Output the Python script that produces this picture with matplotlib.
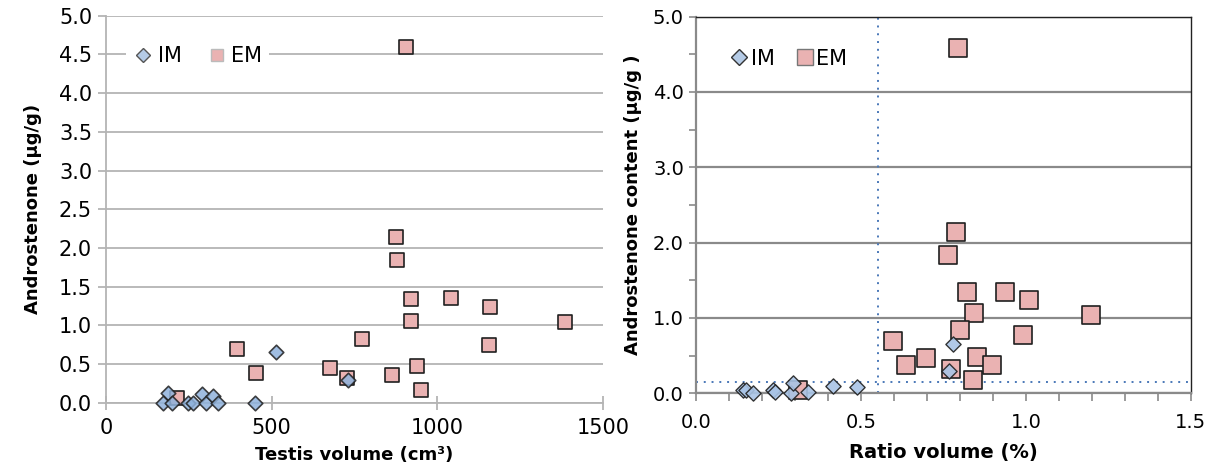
import matplotlib.pyplot as plt
from matplotlib.lines import Line2D
from matplotlib.ticker import MultipleLocator
from matplotlib import font_manager

# left panel: testis volume vs androstenone
im_vol = [186, 172, 198, 247, 263, 289, 302, 323, 338, 450, 512, 730]
im_andro = [0.13, 0.0, 0.0, 0.0, 0.0, 0.11, 0.0, 0.09, 0.0, 0.0, 0.66, 0.29]
em_vol = [907, 876, 878, 920, 1041, 1161, 921, 1387, 772, 1158, 395, 677, 939, 453, 729, 864, 951, 214]
em_andro = [4.60, 2.14, 1.84, 1.34, 1.35, 1.24, 1.06, 1.04, 0.83, 0.75, 0.69, 0.45, 0.47, 0.38, 0.32, 0.36, 0.16, 0.06]

# right panel: ratio volume vs androstenone content
im_ratio = [0.141, 0.151, 0.173, 0.231, 0.238, 0.286, 0.292, 0.338, 0.415, 0.487, 0.780, 0.767]
im_content = [0.05, 0.04, 0.01, 0.04, 0.02, 0.01, 0.14, 0.02, 0.10, 0.09, 0.66, 0.30]
em_ratio = [0.794, 0.788, 0.765, 0.821, 0.936, 1.009, 0.842, 1.198, 0.800, 0.990, 0.596, 0.698, 0.851, 0.635, 0.898, 0.774, 0.840, 0.308]
em_content = [4.58, 2.14, 1.84, 1.34, 1.35, 1.24, 1.06, 1.04, 0.84, 0.77, 0.70, 0.47, 0.48, 0.38, 0.37, 0.32, 0.17, 0.05]

ratio_cut = 0.55
content_cut = 0.15

im_face = '#8fb2dc'
em_face = '#eab2b2'
edge = '#202020'

# narrow font for the right panel, if there is one
names = {f.name for f in font_manager.fontManager.ttflist}
narrow = 'Liberation Sans Narrow' if 'Liberation Sans Narrow' in names else 'DejaVu Sans'

fig = plt.figure(figsize=(12.1, 4.75), dpi=100)

# ---------- left ----------
ax1 = fig.add_axes([0.0876, 0.152, 0.4105, 0.815])
ax1.set_xlim(0, 1500)
ax1.set_ylim(0, 5)
ax1.set_yticks([i * 0.5 for i in range(11)])
ax1.set_xticks([0, 500, 1000, 1500])
ax1.grid(axis='y', color='#b4b4b4', lw=1.3)
ax1.set_axisbelow(True)
for s in ['top', 'right']:
    ax1.spines[s].set_visible(False)
for s in ['left', 'bottom']:
    ax1.spines[s].set_color('#b4b4b4')
    ax1.spines[s].set_linewidth(1.3)
ax1.tick_params(axis='y', length=6, color='#b4b4b4', width=1.3, labelsize=15, pad=4)
ax1.tick_params(axis='x', direction='inout', length=10, color='#b4b4b4', width=1.3, labelsize=15, pad=6)
ax1.yaxis.set_major_formatter(plt.FuncFormatter(lambda v, p: f'{v:.1f}'))
ax1.scatter(em_vol, em_andro, marker='s', s=90, facecolor=em_face, edgecolor=edge, lw=1.2, zorder=3, clip_on=False)
ax1.scatter(im_vol, im_andro, marker='D', s=55, facecolor=im_face, edgecolor=edge, lw=1.2, alpha=0.85, zorder=4, clip_on=False)
ax1.set_xlabel('Testis volume (cm³)', fontsize=13, fontweight='bold', labelpad=6)
ax1.set_ylabel('Androstenone (µg/g)', fontsize=13, fontweight='bold', labelpad=12)

h = [Line2D([], [], ls='', marker='D', ms=7, mfc='#b5cbe6', mec='#555555'),
     Line2D([], [], ls='', marker='s', ms=9, mfc=em_face, mec='#bbbbbb')]
leg1 = ax1.legend(h, ['IM', 'EM'], ncol=2, loc='upper left', bbox_to_anchor=(0.02, 0.965),
                  frameon=True, fontsize=15, handletextpad=0.2, columnspacing=1.2,
                  borderpad=0.3, handlelength=1.0)
leg1.get_frame().set_facecolor('white')
leg1.get_frame().set_edgecolor('none')
leg1.get_frame().set_alpha(1)

# ---------- right ----------
ax2 = fig.add_axes([0.5756, 0.172, 0.4084, 0.793])
ax2.set_xlim(0, 1.5)
ax2.set_ylim(0, 5)
ax2.set_yticks([0, 1, 2, 3, 4, 5])
ax2.yaxis.set_minor_locator(MultipleLocator(0.5))
ax2.set_xticks([0, 0.5, 1.0, 1.5])
ax2.xaxis.set_minor_locator(MultipleLocator(0.1))
ax2.grid(axis='y', which='major', color='#8a8a8a', lw=1.6)
ax2.set_axisbelow(True)
for s in ['top', 'right']:
    ax2.spines[s].set_color('#222222')
    ax2.spines[s].set_linewidth(1.0)
for s in ['left', 'bottom']:
    ax2.spines[s].set_color('#8a8a8a')
    ax2.spines[s].set_linewidth(1.6)
ax2.tick_params(axis='y', which='both', length=5, color='#8a8a8a', width=1.2, labelsize=14, pad=4)
ax2.tick_params(axis='x', which='both', length=6, color='#8a8a8a', width=1.2, labelsize=14, pad=8)
ax2.yaxis.set_major_formatter(plt.FuncFormatter(lambda v, p: f'{v:.1f}'))
ax2.xaxis.set_major_formatter(plt.FuncFormatter(lambda v, p: f'{v:.1f}'))
ax2.axvline(ratio_cut, color='#4a78b8', ls=(0, (1, 3)), lw=1.4, zorder=2)
ax2.axhline(content_cut, color='#4a78b8', ls=(0, (1, 3)), lw=1.4, zorder=2)
ax2.scatter(em_ratio, em_content, marker='s', s=150, facecolor=em_face, edgecolor=edge, lw=1.2, zorder=3, clip_on=False)
ax2.scatter(im_ratio, im_content, marker='D', s=60, facecolor='#a9c4e6', edgecolor=edge, lw=1.0, alpha=0.9, zorder=4, clip_on=False)
ax2.set_xlabel('Ratio volume (%)', fontsize=14, fontweight='bold', family=narrow, labelpad=8)
ax2.set_ylabel('Androstenone content (µg/g )', fontsize=13, fontweight='bold', labelpad=8)
for t in ax2.get_xticklabels() + ax2.get_yticklabels():
    t.set_family(narrow)

h2 = [Line2D([], [], ls='', marker='D', ms=8, mfc='#b5cbe6', mec='#333333'),
      Line2D([], [], ls='', marker='s', ms=12, mfc=em_face, mec='#777777')]
leg2 = ax2.legend(h2, ['IM', 'EM'], ncol=2, loc='upper left', bbox_to_anchor=(0.03, 0.965),
                  frameon=False, prop={'family': narrow, 'size': 15},
                  handletextpad=0.1, columnspacing=1.0, handlelength=0.9)

fig.savefig('out.png', dpi=100)
